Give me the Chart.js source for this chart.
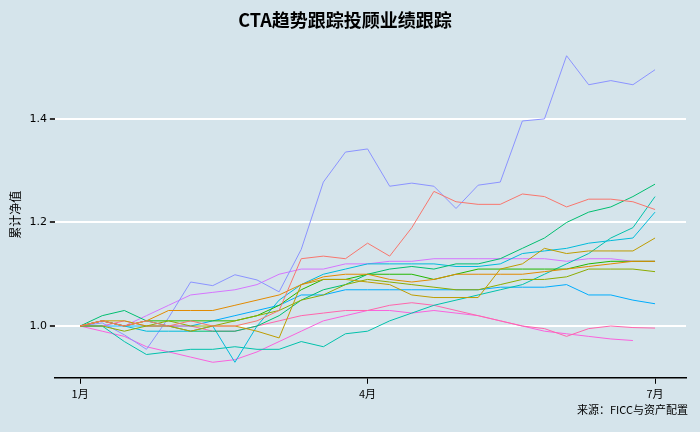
<!DOCTYPE html>
<html>
<head>
<meta charset="utf-8">
<script src="https://cdn.jsdelivr.net/npm/chart.js@4"></script>
<style>
  body { margin: 0; background: #d5e4eb; }
  #wrap { width: 700px; height: 432px; }
</style>
</head>
<body>
<div id="wrap"><canvas id="c"></canvas></div>
<script>
// weekly points, 0 = early Jan, 26 = early Jul
const weeks = Array.from({ length: 27 }, (_, i) => i);
const tickLabels = { 0: '1月', 13: '4月', 26: '7月' };
const seriesColors = ['#F8766D', '#E18A00', '#BE9C00', '#8CAB00', '#24B700', '#00BE70', '#00C1AB',
                      '#00BBDA', '#00ACFC', '#8B93FF', '#D575FE', '#F962DD', '#FF65AC'];

const s1  = [1.00, 1.01, 1.00, 1.01, 1.00, 1.01, 1.00, 1.00, 1.01, 1.03, 1.13, 1.135, 1.13, 1.16, 1.135, 1.19, 1.26, 1.24, 1.235, 1.235, 1.255, 1.25, 1.23, 1.245, 1.245, 1.24, 1.225];
const s2  = [1.00, 1.01, 1.00, 1.01, 1.03, 1.03, 1.03, 1.04, 1.05, 1.06, 1.08, 1.095, 1.10, 1.10, 1.09, 1.085, 1.09, 1.10, 1.10, 1.10, 1.10, 1.105, 1.11, 1.115, 1.12, 1.125, 1.125];
const s3  = [1.00, 1.01, 1.01, 1.00, 1.00, 0.99, 1.00, 1.00, 0.99, 0.977, 1.08, 1.09, 1.09, 1.085, 1.08, 1.06, 1.055, 1.055, 1.055, 1.11, 1.12, 1.15, 1.14, 1.145, 1.145, 1.145, 1.17];
const s4  = [1.00, 1.00, 0.99, 1.00, 1.01, 1.00, 1.00, 1.01, 1.02, 1.03, 1.05, 1.06, 1.08, 1.09, 1.085, 1.08, 1.075, 1.07, 1.07, 1.08, 1.09, 1.09, 1.095, 1.11, 1.11, 1.11, 1.105];
const s5  = [1.00, 1.01, 1.00, 1.01, 1.01, 1.01, 1.01, 1.01, 1.02, 1.04, 1.07, 1.09, 1.09, 1.10, 1.10, 1.10, 1.09, 1.10, 1.11, 1.11, 1.11, 1.11, 1.11, 1.12, 1.125, 1.125, 1.125];
const s6  = [1.00, 1.02, 1.03, 1.01, 1.00, 0.99, 0.99, 0.99, 1.00, 1.02, 1.05, 1.07, 1.08, 1.10, 1.11, 1.115, 1.11, 1.12, 1.12, 1.13, 1.15, 1.17, 1.20, 1.22, 1.23, 1.25, 1.274];
const s7  = [1.00, 1.01, 1.00, 0.99, 0.99, 0.99, 1.00, 0.93, 1.00, 1.05, 1.08, 1.10, 1.11, 1.12, 1.12, 1.12, 1.12, 1.115, 1.115, 1.12, 1.14, 1.145, 1.15, 1.16, 1.165, 1.17, 1.22];
const s8  = [1.00, 1.00, 0.97, 0.945, 0.95, 0.955, 0.955, 0.96, 0.955, 0.955, 0.97, 0.96, 0.985, 0.99, 1.01, 1.025, 1.04, 1.05, 1.06, 1.07, 1.08, 1.10, 1.12, 1.14, 1.17, 1.19, 1.25];
const s9  = [1.00, 1.006, 0.983, 0.955, 1.016, 1.085, 1.078, 1.099, 1.089, 1.066, 1.148, 1.278, 1.336, 1.342, 1.27, 1.276, 1.27, 1.227, 1.272, 1.278, 1.396, 1.40, 1.522, 1.466, 1.474, 1.466, 1.495];
const s10 = [1.00, 1.01, 1.00, 1.02, 1.04, 1.06, 1.065, 1.07, 1.08, 1.10, 1.11, 1.11, 1.12, 1.12, 1.125, 1.125, 1.13, 1.13, 1.13, 1.13, 1.13, 1.13, 1.125, 1.13, 1.13, 1.125, 1.125];
const s11 = [1.00, 1.00, 1.01, 1.00, 1.00, 1.00, 0.99, 0.99, 1.00, 1.01, 1.02, 1.025, 1.03, 1.03, 1.04, 1.045, 1.04, 1.03, 1.02, 1.01, 1.00, 0.995, 0.98, 0.995, 1.00, 0.997, 0.996];
const s12 = [1.00, 0.99, 0.98, 0.96, 0.95, 0.94, 0.93, 0.935, 0.95, 0.97, 0.99, 1.01, 1.02, 1.03, 1.03, 1.025, 1.03, 1.025, 1.02, 1.01, 1.00, 0.99, 0.985, 0.98, 0.975, 0.972, null];
const s13 = [1.00, 1.00, 1.00, 1.00, 1.00, 1.00, 1.01, 1.02, 1.03, 1.04, 1.06, 1.06, 1.07, 1.07, 1.07, 1.07, 1.07, 1.07, 1.07, 1.075, 1.075, 1.075, 1.08, 1.06, 1.06, 1.05, 1.043];
const allSeries = [s1, s2, s3, s4, s5, s6, s7, s8, s9, s10, s11, s12, s13];
const lineColors = [seriesColors[0], seriesColors[1], seriesColors[2], seriesColors[3], seriesColors[4], seriesColors[5],
                    seriesColors[7], seriesColors[6], seriesColors[9], seriesColors[10], seriesColors[12], seriesColors[11], seriesColors[8]];

const sourceNote = {
  id: 'sourceNote',
  afterDraw(chart) {
    const c = chart.ctx;
    c.save();
    c.font = '11px "Noto Sans CJK SC"';
    c.fillStyle = '#000';
    c.textAlign = 'right';
    c.fillText('来源：FICC与资产配置', 688, 414);
    c.restore();
  }
};

new Chart(document.getElementById('c'), {
  type: 'line',
  data: {
    datasets: allSeries.map((vals, k) => ({
      data: weeks.map((w, i) => ({ x: w, y: vals[i] })),
      borderColor: lineColors[k],
      borderWidth: 1,
      pointRadius: 0,
      tension: 0,
      spanGaps: false
    }))
  },
  options: {
    responsive: true,
    maintainAspectRatio: false,
    animation: false,
    layout: { padding: { left: 4, right: 14, top: 4, bottom: 29 } },
    plugins: {
      legend: { display: false },
      tooltip: { enabled: false },
      title: {
        display: true,
        text: 'CTA趋势跟踪投顾业绩跟踪',
        color: '#000',
        font: { size: 18, weight: 'bold', family: '"Noto Sans CJK SC"' },
        padding: { top: 5, bottom: 21 }
      }
    },
    scales: {
      x: {
        type: 'linear',
        min: -1.14,
        max: 27.4,
        afterBuildTicks: axis => { axis.ticks = [0, 13, 26].map(v => ({ value: v })); },
        ticks: { callback: v => tickLabels[v], color: '#000', font: { size: 11, family: '"Noto Sans CJK SC"' }, maxRotation: 0 },
        grid: { display: true, drawOnChartArea: false, color: '#000', tickLength: 6 },
        border: { display: true, color: '#000', width: 1.5 }
      },
      y: {
        min: 0.9,
        max: 1.53,
        afterBuildTicks: axis => { axis.ticks = [1.0, 1.2, 1.4].map(v => ({ value: v })); },
        ticks: { callback: v => v.toFixed(1), color: '#000', font: { size: 11, family: 'DejaVu Sans' } },
        grid: { color: '#ffffff', lineWidth: 2, tickLength: 5, tickColor: '#333' },
        border: { display: false },
        title: { display: true, text: '累计净值', color: '#000', font: { size: 12, family: '"Noto Sans CJK SC"' } }
      }
    }
  },
  plugins: [sourceNote]
});
</script>
</body>
</html>
